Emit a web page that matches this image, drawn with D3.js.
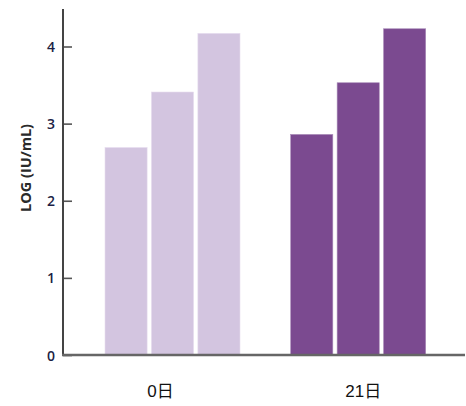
<!DOCTYPE html>
<html>
<head>
<meta charset="utf-8">
<script src="https://cdn.jsdelivr.net/npm/d3@7"></script>
<style>
  body { margin: 0; background: #fff; }
</style>
</head>
<body>
<div id="chart"></div>
<script>
const categories = ["0日", "21日"];
const seriesKeys = ["a", "b", "c"];
const values = {
  "0日": [2.69, 3.41, 4.17],
  "21日": [2.86, 3.53, 4.23]
};
const yTicks = [0, 1, 2, 3, 4];
const yTitle = "LOG (IU/mL)";
const colorByCat = { "0日": "#d3c5e0", "21日": "#7b4a90" };
const labelShift = { "0日": -12, "21日": 5 };

const width = 466;
const height = 406;
const axisX = 63;
const axisY = 355;

const svg = d3.select("#chart")
  .append("svg")
  .attr("width", width)
  .attr("height", height);

const y = d3.scaleLinear()
  .domain([0, 4])
  .range([axisY, 46.5]);

const x0 = d3.scaleBand()
  .domain(categories)
  .range([105, 425.7])
  .paddingInner(0.273)
  .paddingOuter(0);

const x1 = d3.scaleBand()
  .domain(seriesKeys)
  .range([0, x0.bandwidth()])
  .paddingInner(0.093)
  .paddingOuter(0);

// bars
categories.forEach(cat => {
  svg.append("g")
    .attr("transform", `translate(${x0(cat)},0)`)
    .selectAll("rect")
    .data(values[cat].map((v, i) => ({ key: seriesKeys[i], v })))
    .enter()
    .append("rect")
    .attr("x", d => x1(d.key))
    .attr("y", d => y(d.v))
    .attr("width", x1.bandwidth())
    .attr("height", d => y(0) - y(d.v))
    .attr("fill", colorByCat[cat])
    .attr("stroke", cat === "0日" ? "#e6ddee" : "#a98bb8")
    .attr("stroke-width", 0.6);
});

// y axis, ticks inside
const yAxis = svg.append("g")
  .attr("transform", `translate(${axisX},0)`)
  .call(d3.axisRight(y).tickValues(yTicks).tickSize(9).tickFormat(d3.format("d")));
yAxis.select(".domain").remove();
yAxis.selectAll(".tick line").attr("stroke", "#555").attr("stroke-width", 1.6);
yAxis.selectAll(".tick text")
  .attr("x", -8)
  .attr("text-anchor", "end")
  .attr("dy", "0.36em")
  .style("font-family", "'Open Sans', 'DejaVu Sans', sans-serif")
  .style("font-size", "14px")
  .style("font-weight", "600")
  .style("fill", "#1c1f45");

svg.append("line")
  .attr("x1", axisX).attr("x2", axisX)
  .attr("y1", 9).attr("y2", axisY + 1)
  .attr("stroke", "#444")
  .attr("stroke-width", 2);

svg.append("line")
  .attr("x1", axisX - 1).attr("x2", 465)
  .attr("y1", axisY).attr("y2", axisY)
  .attr("stroke", "#666")
  .attr("stroke-width", 2.4);

// x labels
svg.selectAll(".xlab")
  .data(categories)
  .enter()
  .append("text")
  .attr("x", d => x0(d) + x0.bandwidth() / 2 + labelShift[d])
  .attr("y", 397)
  .attr("text-anchor", "middle")
  .style("font-family", "'Liberation Sans', 'Noto Sans CJK JP', Arial, sans-serif")
  .style("font-size", "17px")
  .style("fill", "#111")
  .text(d => d);

// y title
svg.append("text")
  .attr("transform", `translate(31,168) rotate(-90)`)
  .attr("text-anchor", "middle")
  .style("font-family", "'Open Sans', 'DejaVu Sans', sans-serif")
  .style("font-size", "14.5px")
  .style("font-weight", "700")
  .style("fill", "#2a2a2a")
  .text(yTitle);
</script>
</body>
</html>
